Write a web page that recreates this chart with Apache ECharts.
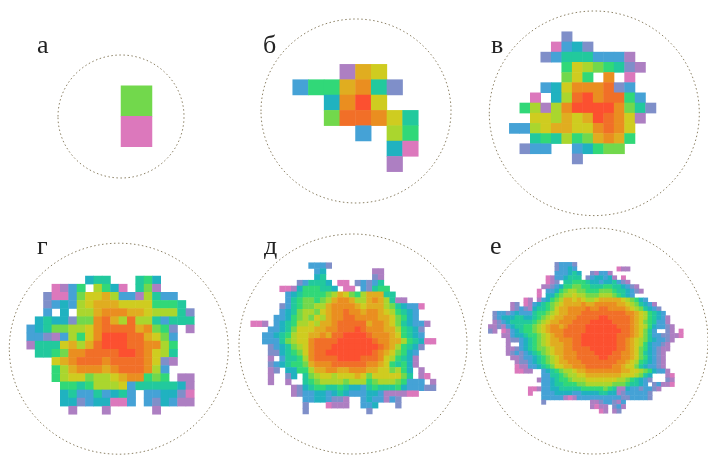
<!DOCTYPE html>
<html><head><meta charset="utf-8">
<style>html,body{margin:0;padding:0;background:#fff}#c{width:708px;height:455px;filter:blur(0.55px)}</style>
<script src="https://cdn.jsdelivr.net/npm/echarts@6/dist/echarts.min.js"></script>
</head><body><div id="c"></div>
<script>
// Levels per cell: 0 (pink) ... 9, a, b, c, d (red); "." = empty
const rowsA = ["7","0"];
const rowsB = [
"...1a9",
"366ab52",
"..4bd9",
"..7ccb95",
"....3.86",
"......40",
"......1"];
const rowsV = [
".....2",
"....0342",
"...235553331",
".....69876521",
".....796.b.0",
"...349bbbc23",
"..0.48cdbcc63",
".6818bddddb752",
"..998a9adcb91",
"3389aa99bcb9",
"..565867aba6",
".233..34677",
"......2"];
const rowsG = [
".......455...564",
"...0136.8640.571",
"..2003799a83318533",
"..234389aaa99996665",
"..3.4.88abbbaa988852",
".4544277bca8c8853555",
"34577889bccccab762.1",
"33213869bdddcca973",
"15559a8acdddccbb86",
".5567bbccccddcb985",
"...9abcccbccccb921",
"...68abbbabcccb83",
"...68997889abb676.11",
"....6656888935555541",
"....453353453.334420",
"....442344003.324311",
".....1...1.....1"];
const rowsD = [
"..........3332",
"...........34........11",
"...........45........21",
"........235554.00.23235",
".....0014666554.00.32566",
"......345666678a9768aaa55",
"......35677678abba88aba8511",
".....23567788abbbba9aaa8754330",
".....34578879abbcbbabba986543",
"....334678798abbccbbbbaa97643",
"001.34568898aabcccccabba9754331",
"...33457999aabbcccdcbbbaa86542",
"..33456899aabaccddddcbbba96543",
"..33357899bccccddddddcbbaa865400",
"...2345789bcccddddddddcba86542",
"...2245679bccddddddddcba97643",
"...1.35568bccccddddcccb986541",
"...2345667abbbccccccbba965641",
"...12.44668aabbaabbbaa997864.1",
"...1..24.578998999a979999975.10",
"...1..1..567888878886788876333.1",
".......1245665565443565556433322",
".......1233443454333443111100",
".........33443221..3433132",
".........2...0111..334...2",
".........2..........2"];
const rowsE = [
"...............23332",
"...............23343.........011",
"...............333454..21331",
".............01334555.2344341.0",
".............012.556665443445321",
"............1123466776655566554321",
"...........0.3346788776667776554321",
"...........0.44678898877788876543",
"........01." + "134678aa9a9889aaaaa987643",
".....12.01" + "3456789aaaabaabbbbbaa9875431",
".....12321" + "455679aabbbbcbbccbbbba9875432",
".233234333" + "566789aabbb" + "cccccccccc" + "bba986543",
".234445544" + "56789aabbb" + "ccccc" + "dd" + "ccccc" + "ba9865431",
".123455555" + "6789aabbbc" + "cccdd" + "dddcc" + "ccba9" + "76533" + "1",
"1121345566" + "789abbabcc" + "ccddd" + "ddddc" + "ccba9" + "86433" + "21",
"21." + "0134566" + "789abbbccc" + "ccddd" + "ddddd" + "ccba9" + "753" + ".." + "21" + "." + "0",
"..." + "1134456" + "6789abbccc" + "cdddd" + "ddddc" + "ccba9" + "75332" + "2110",
"...." + "122345" + "6789aabbbc" + "cdddd" + "ddddc" + "cba98" + "75433" + "21",
"....1.." + "345" + "6789aaabbc" + "cdddd" + "ddddc" + "cba98" + "64332" + "1",
"...." + "112345" + "67789aabbc" + "cccdd" + "ddddc" + "cba97" + "64321" + "1",
"...." + "123234" + "56789aabbb" + "ccccd" + "dddcc" + "bba97" + "54321",
"....." + "11233" + "456789abbb" + "ccccc" + "ddccc" + "bba97" + "64321",
"......" + "1223" + "456789aabb" + "bcccc" + "ccccb" + "ba986" + "54321",
"......" + "0113" + "3456799aab" + "bbccc" + "cccbb" + "a9975" + "43321",
"......" + "0011" + ".." + "34567889" + "aabbb" + "bbbbb" + "aa998" + "76433" + "1",
"............" + "33556788" + "99aaa" + "aaaaa" + "99987" + "54" + "..." + "10",
"..........." + "1" + "33456678" + "88999" + "99998" + "87654" + "32" + "..." + "21",
"............" + "33455666" + "77888" + "88877" + "76554" + "3" + "." + "23110",
".........001" + "33445555" + "56666" + "6765" + "11" + "43323321",
".........0.." + "33344443" + "34444" + "55441" + "2333332",
"............" + "33333" + "101" + "33333" + "33333" + "2233332",
"............2..........11233213",
".......................1011.231",
".........................01.12"];

const levelColors = ["#dc78bc","#ad7fc2","#7f8fc9","#45a2d6","#20b2c0","#22c99d","#31d878","#72d84c","#aad62e","#cfcc20","#e0ad20","#ea8e20","#f16f28","#fc5030"];
const labels = ["а","б","в","г","д","е"];
const panels = [rowsA, rowsB, rowsV, rowsG, rowsD, rowsE];
const columnCounts = [1,8,14,20,32,44];

// layout only: cell block [left, top, width, height], outline [cx, cy, rx, ry], label [x, baseline]
const blocks = [[121,85.7,31,61],[292.7,64.3,125.6,107.4],[509.3,31.7,146.7,132.3],[26.7,276,167.6,138.3],[250.7,262.7,185.3,151.3],[488.3,262.3,195,151]];
const rings = [[121,116.5,63,61.5],[356,111,95,92],[594.3,113.3,105,102.3],[118.8,348.7,109.5,105.5],[353,344,114,110],[594,341,114,113]];
const labelPos = [[37,59],[263,59],[491,59],[37,260],[264,260],[490,260]];

function toCells(rows){
  const out=[];
  rows.forEach((r,y)=>{[...r].forEach((ch,x)=>{ if(ch!==".") out.push([x,y,parseInt(ch,16)]); });});
  return out;
}
const grid=[],xAxis=[],yAxis=[],series=[];
panels.forEach((rows,i)=>{
  const b=blocks[i];
  grid.push({left:b[0],top:b[1],width:b[2],height:b[3]});
  xAxis.push({type:"category",gridIndex:i,show:false,data:Array.from({length:columnCounts[i]},(_,k)=>k)});
  yAxis.push({type:"category",gridIndex:i,show:false,inverse:true,data:rows.map((_,k)=>k)});
  series.push({type:"heatmap",xAxisIndex:i,yAxisIndex:i,data:toCells(rows),progressive:0,animation:false,emphasis:{disabled:true},itemStyle:{borderWidth:0}});
});
const chart=echarts.init(document.getElementById("c"),null,{renderer:"canvas"});
chart.setOption({
  animation:false,
  backgroundColor:"#fff",
  tooltip:{show:false},
  visualMap:{show:false,type:"continuous",min:0,max:13,dimension:2,seriesIndex:series.map((_,i)=>i),inRange:{color:levelColors}},
  grid,xAxis,yAxis,series,
  graphic:rings.map(r=>({type:"ellipse",silent:true,shape:{cx:r[0],cy:r[1],rx:r[2],ry:r[3]},style:{fill:"none",stroke:"#8d8266",lineWidth:1,lineDash:[1.5,2.5]}}))
    .concat(labels.map((t,i)=>({type:"text",silent:true,x:labelPos[i][0],y:labelPos[i][1],style:{text:t,fill:"#222",font:'26px "Liberation Serif"',textVerticalAlign:"bottom"}})))
});
</script></body></html>
